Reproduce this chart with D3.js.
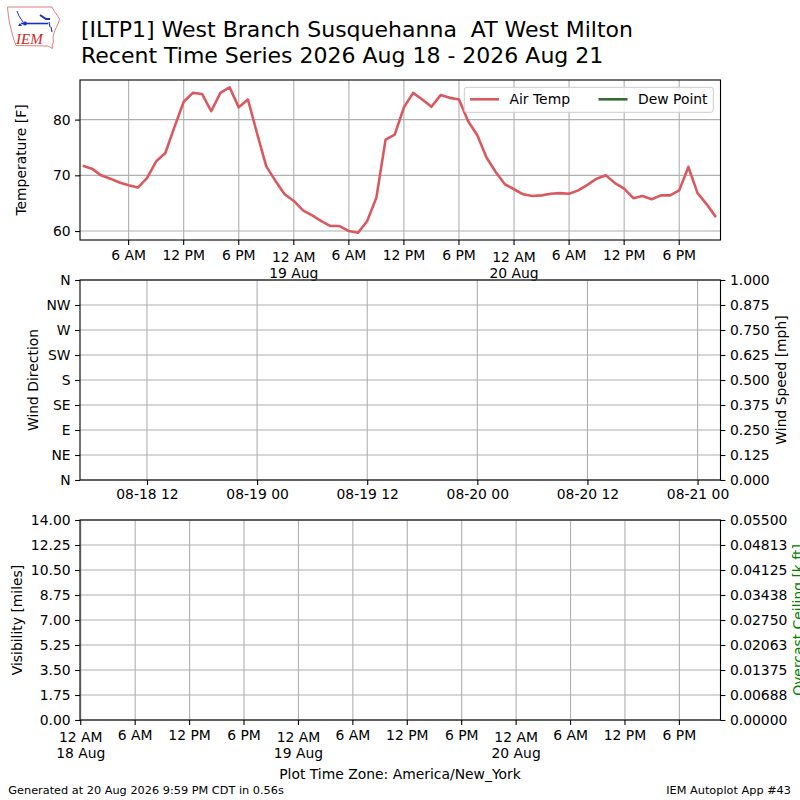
<!DOCTYPE html>
<html>
<head>
<meta charset="utf-8">
<script src="https://cdn.jsdelivr.net/npm/d3@7"></script>
<style>
  html, body { margin: 0; padding: 0; background: #fff; }
  svg { display: block; font-family: "DejaVu Sans", sans-serif; }
</style>
</head>
<body>
<svg id="chart" width="800" height="800"></svg>
<script>
// ---------------- DATA ----------------
const titleLines = ["[ILTP1] West Branch Susquehanna  AT West Milton",
                    "Recent Time Series 2026 Aug 18 - 2026 Aug 21"];
// hourly observations (America/New_York local time), first at 2026-08-18 01:00
const firstObs = "2026-08-18 01:00";
const airTemp = [
  71.7, 71.2, 70.0, 69.4, 68.7, 68.2, 67.8, 69.5, 72.5, 74.0,
  78.7, 83.2, 84.8, 84.6, 81.5, 84.8, 85.8, 82.2, 83.6, 77.5,
  71.6, 69.0, 66.6, 65.4, 63.7, 62.8, 61.8, 60.9, 60.9, 60.0,
  59.7, 61.8, 66.0, 76.4, 77.3, 82.2, 84.8, 83.6, 82.3, 84.4,
  83.9, 83.6, 79.7, 77.2, 73.2, 70.6, 68.4, 67.5, 66.6, 66.3,
  66.4, 66.7, 66.8, 66.7, 67.3, 68.3, 69.4, 70.0, 68.6, 67.6,
  65.9, 66.3, 65.7, 66.4, 66.4, 67.3, 71.5, 66.8, 64.8, 62.5
];
const dewPoint = []; // no dew point data shown
const legendLabels = ["Air Temp", "Dew Point"];
const tempTicks = [60, 70, 80];
const dirTicks = [0, 45, 90, 135, 180, 225, 270, 315, 360];
const dirTickLabels = ["N", "NE", "E", "SE", "S", "SW", "W", "NW", "N"];
const speedTicks = [0, 0.125, 0.25, 0.375, 0.5, 0.625, 0.75, 0.875, 1.0];
const visTicks = [0, 1.75, 3.5, 5.25, 7, 8.75, 10.5, 12.25, 14];
const ceilTicks = [0, 0.006875, 0.01375, 0.020625, 0.0275, 0.034375, 0.04125, 0.048125, 0.055];
const ceilTickLabels = ["0.00000", "0.00688", "0.01375", "0.02063", "0.02750",
                        "0.03438", "0.04125", "0.04813", "0.05500"];
const timeDomainTop = ["2026-08-18 00:42", "2026-08-20 22:30"];
const timeDomainBottom = ["2026-08-17 23:55", "2026-08-20 22:32"];
const utcOffsetHours = 4; // EDT -> UTC for the wind panel
const footerLeft = "Generated at 20 Aug 2026 9:59 PM CDT in 0.56s";
const footerRight = "IEM Autoplot App #43";
const tzLabel = "Plot Time Zone: America/New_York";

// ---------------- SETUP ----------------
const parse = d3.utcParse("%Y-%m-%d %H:%M");
const t0 = parse(firstObs);
const obs = airTemp.map((v, i) => ({ t: d3.utcHour.offset(t0, i), v }));

const svg = d3.select("#chart");
const FONT = 13.9;
const RED = "#d9595f", GREEN = "#336b33", GRID = "#b0b0b0";
const L = 80, R = 720.5;

// ---------------- LOGO ----------------
const logo = svg.append("g");
logo.append("path")
  .attr("d", "M7.5,7 L52,7 L54,11 L57,15 L59.5,19 L58,24 L56,28 L54,33 L53,38 L53.5,42 L52,45 L52.5,48.5 L48,46 L16,45.5 L14,40 L12,33 L10,25 L8.5,17 Z")
  .attr("fill", "none").attr("stroke", "#e07070").attr("stroke-width", 0.9);
logo.append("path").attr("d", "M21,23.5 L48,23.5").attr("stroke", "#1a2fc8").attr("stroke-width", 1.6);
logo.append("path").attr("d", "M17,11 L19,16 L23,22").attr("stroke", "#1a2fc8").attr("stroke-width", 1).attr("fill", "none");
logo.append("path").attr("d", "M40,15 L46,19 L50,19").attr("stroke", "#1a2fc8").attr("stroke-width", 2).attr("fill", "none");
logo.append("path").attr("d", "M49,22 L50,27 M51,27 L52,32").attr("stroke", "#1a2fc8").attr("stroke-width", 1.2).attr("fill", "none");
logo.append("circle").attr("cx", 25).attr("cy", 23.5).attr("r", 2).attr("fill", "#1a2fc8");
logo.append("path").attr("d", "M18,26 L20,23 L22,26 Z").attr("fill", "#1a2fc8");
logo.append("text").attr("x", 16).attr("y", 43.5)
  .attr("font-family", "Liberation Serif, serif").attr("font-style", "italic")
  .attr("font-size", 15).attr("fill", "#d02828").text("IEM");

// ---------------- TITLE ----------------
svg.append("text").attr("x", 81).attr("y", 36.7).attr("font-size", 22)
  .attr("xml:space", "preserve").style("white-space", "pre").text(titleLines[0]);
svg.append("text").attr("x", 81).attr("y", 63.3).attr("font-size", 22)
  .attr("xml:space", "preserve").style("white-space", "pre").text(titleLines[1]);

// ---------------- helpers ----------------
function hGrid(g, yScale, ticks) {
  g.selectAll(null).data(ticks).join("line")
    .attr("x1", L).attr("x2", R)
    .attr("y1", d => yScale(d)).attr("y2", d => yScale(d))
    .attr("stroke", GRID).attr("stroke-width", 1.1);
}
function vGrid(g, xScale, ticks, y0, y1) {
  g.selectAll(null).data(ticks).join("line")
    .attr("x1", d => xScale(d)).attr("x2", d => xScale(d))
    .attr("y1", y0).attr("y2", y1)
    .attr("stroke", GRID).attr("stroke-width", 1.1);
}
function frame(top, bottom) {
  svg.append("rect").attr("x", L).attr("y", top).attr("width", R - L).attr("height", bottom - top)
    .attr("fill", "none").attr("stroke", "#000").attr("stroke-width", 1.1);
}
function leftAxis(y, ticks, fmt) {
  const g = svg.append("g").attr("transform", `translate(${L},0)`)
    .call(d3.axisLeft(y).tickValues(ticks).tickFormat(fmt).tickSizeOuter(0).tickSize(4.9).tickPadding(4.5));
  g.select(".domain").remove();
  g.selectAll("text").attr("font-size", FONT).attr("font-family", "DejaVu Sans").attr("fill", "#000");
  g.selectAll("line").attr("stroke-width", 1.1);
  return g;
}
function rightAxis(y, ticks, fmt) {
  const g = svg.append("g").attr("transform", `translate(${R},0)`)
    .call(d3.axisRight(y).tickValues(ticks).tickFormat(fmt).tickSizeOuter(0).tickSize(4.9).tickPadding(4.5));
  g.select(".domain").remove();
  g.selectAll("text").attr("font-size", FONT).attr("font-family", "DejaVu Sans").attr("fill", "#000");
  g.selectAll("line").attr("stroke-width", 1.1);
  return g;
}
function ylabel(text, x, cy, color) {
  svg.append("text").attr("transform", `translate(${x},${cy}) rotate(-90)`)
    .attr("text-anchor", "middle").attr("font-size", FONT).attr("fill", color || "#000").text(text);
}
const hourFmt = d3.utcFormat("%-I %p");
const dayFmt = d3.utcFormat("%d %b");
function localTimeAxis(x, ticks, yAxis) {
  const g = svg.append("g");
  g.selectAll(null).data(ticks).join("line")
    .attr("x1", d => x(d)).attr("x2", d => x(d))
    .attr("y1", yAxis).attr("y2", yAxis + 4.9).attr("stroke", "#000").attr("stroke-width", 1.1);
  const lab = g.selectAll(null).data(ticks).join("text")
    .attr("text-anchor", "middle").attr("font-size", FONT)
    .attr("x", d => x(d));
  lab.each(function(d) {
    const s = d3.select(this);
    if (d.getUTCHours() === 0) {
      s.append("tspan").attr("x", x(d)).attr("y", yAxis + 22).text(hourFmt(d));
      s.append("tspan").attr("x", x(d)).attr("y", yAxis + 38.4).text(dayFmt(d));
    } else {
      s.attr("y", yAxis + 20).text(hourFmt(d));
    }
  });
}

// ---------------- PANEL 1: Temperature ----------------
const T1 = 80, B1 = 240;
const x1 = d3.scaleUtc().domain(timeDomainTop.map(parse)).range([L, R]);
const ext = d3.extent(airTemp), pad = (ext[1] - ext[0]) * 0.05;
const y1 = d3.scaleLinear().domain([ext[0] - pad, ext[1] + pad]).range([B1, T1]);
const ticks1 = x1.ticks(d3.utcHour.every(6)).filter(d => x1(d) > L + 1 && x1(d) < R - 1);
const g1 = svg.append("g");
hGrid(g1, y1, tempTicks);
vGrid(g1, x1, ticks1, T1, B1);
svg.append("path").datum(obs)
  .attr("d", d3.line().x(d => x1(d.t)).y(d => y1(d.v)))
  .attr("fill", "none").attr("stroke", RED).attr("stroke-width", 2.6).attr("stroke-linejoin", "round");
frame(T1, B1);
leftAxis(y1, tempTicks, d3.format("d"));
localTimeAxis(x1, ticks1, B1);
ylabel("Temperature [F]", 26, (T1 + B1) / 2);

// legend
const lg = svg.append("g");
lg.append("rect").attr("x", 464.3).attr("y", 87.3).attr("width", 249).attr("height", 25)
  .attr("rx", 2.5).attr("fill", "#fff").attr("fill-opacity", 0.8).attr("stroke", "#cccccc").attr("stroke-width", 1);
[[470, RED, legendLabels[0]], [598.5, GREEN, legendLabels[1]]].forEach(([lx, c, t]) => {
  lg.append("line").attr("x1", lx).attr("x2", lx + 29).attr("y1", 99.3).attr("y2", 99.3)
    .attr("stroke", c).attr("stroke-width", 2.6);
  lg.append("text").attr("x", lx + 39.5).attr("y", 104.3).attr("font-size", FONT).text(t);
});

// ---------------- PANEL 2: Wind ----------------
const T2 = 280, B2 = 480;
const x2 = d3.scaleUtc()
  .domain(timeDomainTop.map(s => d3.utcHour.offset(parse(s), utcOffsetHours)))
  .range([L, R]);
const yDir = d3.scaleLinear().domain([0, 360]).range([B2, T2]);
const ySpd = d3.scaleLinear().domain([0, 1]).range([B2, T2]);
const ticks2 = x2.ticks(d3.utcHour.every(12)).filter(d => x2(d) > L + 1 && x2(d) < R - 1);
const g2 = svg.append("g");
hGrid(g2, yDir, dirTicks);
vGrid(g2, x2, ticks2, T2, B2);
frame(T2, B2);
leftAxis(yDir, dirTicks, (d, i) => dirTickLabels[i]);
rightAxis(ySpd, speedTicks, d3.format(".3f"));
const xa2 = svg.append("g").attr("transform", `translate(0,${B2})`)
  .call(d3.axisBottom(x2).tickValues(ticks2).tickFormat(d3.utcFormat("%m-%d %H")).tickSize(4.9).tickPadding(4.5));
xa2.select(".domain").remove();
xa2.selectAll("text").attr("font-size", FONT).attr("font-family", "DejaVu Sans").attr("fill", "#000");
xa2.selectAll("line").attr("stroke-width", 1.1);
ylabel("Wind Direction", 37.5, (T2 + B2) / 2);
ylabel("Wind Speed [mph]", 785.5, (T2 + B2) / 2);

// ---------------- PANEL 3: Visibility / Ceiling ----------------
const T3 = 520, B3 = 720;
const x3 = d3.scaleUtc().domain(timeDomainBottom.map(parse)).range([L, R]);
const yVis = d3.scaleLinear().domain([0, 14]).range([B3, T3]);
const yCeil = d3.scaleLinear().domain([0, 0.055]).range([B3, T3]);
const ticks3 = x3.ticks(d3.utcHour.every(6)).filter(d => x3(d) >= L - 1 && x3(d) < R - 1);
const g3 = svg.append("g");
hGrid(g3, yVis, visTicks);
vGrid(g3, x3, ticks3, T3, B3);
frame(T3, B3);
leftAxis(yVis, visTicks, d3.format(".2f"));
rightAxis(yCeil, ceilTicks, (d, i) => ceilTickLabels[i]);
localTimeAxis(x3, ticks3, B3);
ylabel("Visibility [miles]", 21.5, (T3 + B3) / 2);
ylabel("Overcast Ceiling [k ft]", 803, (T3 + B3) / 2, "#008000");

// ---------------- FOOTER ----------------
svg.append("text").attr("x", 400).attr("y", 779).attr("text-anchor", "middle").attr("font-size", FONT).text(tzLabel);
svg.append("text").attr("x", 8.3).attr("y", 794).attr("font-size", 11.3).text(footerLeft);
svg.append("text").attr("x", 791).attr("y", 794).attr("text-anchor", "end").attr("font-size", 11.3).text(footerRight);
</script>
</body>
</html>
